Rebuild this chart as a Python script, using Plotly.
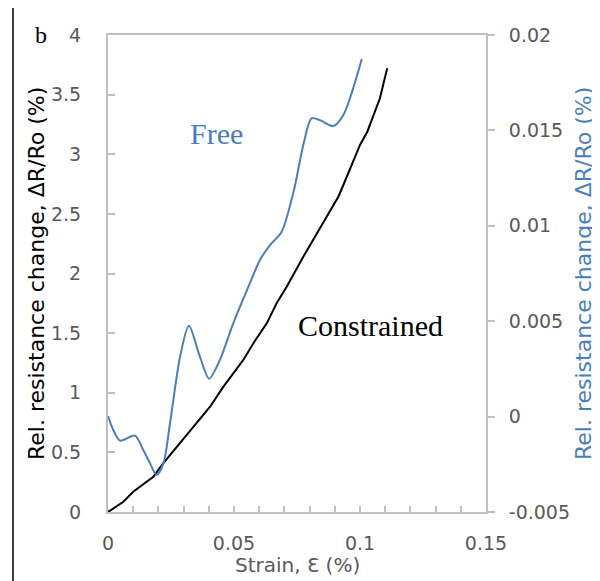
import plotly.graph_objects as go

# constrained sample, left axis (%)
constrained_strain = [0, 0.0061, 0.01, 0.018, 0.0219, 0.0286, 0.0339, 0.0405, 0.0458,
                      0.0537, 0.0577, 0.063, 0.0669, 0.0709, 0.0775, 0.0828, 0.0868,
                      0.0914, 0.0934, 0.0967, 0.1, 0.1029, 0.1066, 0.1079, 0.1108]
constrained_dr = [0, 0.086, 0.17, 0.296, 0.408, 0.576, 0.715, 0.883, 1.051,
                  1.275, 1.415, 1.582, 1.75, 1.889, 2.141, 2.337, 2.476,
                  2.644, 2.742, 2.91, 3.078, 3.189, 3.385, 3.469, 3.721]

# free sample, right axis (%)
free_strain = [0, 0.0021, 0.0048, 0.0107, 0.014, 0.0167, 0.0193, 0.022, 0.0246,
               0.0286, 0.0321, 0.0365, 0.0401, 0.0444, 0.0497, 0.0563, 0.0603,
               0.0643, 0.0689, 0.0738, 0.0775, 0.0808, 0.0841, 0.0894, 0.0934, 0.1007]
free_dr = [0.00003, -0.0007, -0.00126, -0.0010, -0.00175, -0.00245, -0.00306, -0.00245, -0.00035,
           0.00314, 0.00476, 0.00313, 0.00199, 0.00297, 0.00489, 0.00699, 0.00821,
           0.00899, 0.00969, 0.01188, 0.01424, 0.01563, 0.01554, 0.01523, 0.01581, 0.01874]

# tick labels
x_ticks = [0, 0.05, 0.1, 0.15]
x_labels = ["0", "0.05", "0.1", "0.15"]
y_ticks = [0, 0.5, 1, 1.5, 2, 2.5, 3, 3.5, 4]
y_labels = ["0", "0.5", "1", "1.5", "2", "2.5", "3", "3.5", "4"]
y2_ticks = [-0.005, 0, 0.005, 0.01, 0.015, 0.02]
y2_labels = ["-0.005", "0", "0.005", "0.01", "0.015", "0.02"]

BLUE = "#4a7ebb"
GREY_TXT = "#595959"
GREY_LINE = "#bfbfbf"
FONT = "DejaVu Sans"
Y_TITLE = "Rel. resistance change, ΔR/Ro (%)"

fig = go.Figure()
fig.add_trace(go.Scatter(x=constrained_strain, y=constrained_dr, mode="lines",
                         line=dict(color="black", width=2), name="Constrained"))
fig.add_trace(go.Scatter(x=free_strain, y=free_dr, mode="lines", yaxis="y2",
                         line=dict(color=BLUE, width=2, shape="spline", smoothing=0.8),
                         name="Free"))

# page body adds an 8px offset, so margins are shifted to compensate
fig.update_layout(
    width=600, height=581,
    margin=dict(l=100, r=122, t=27, b=77),
    paper_bgcolor="white", plot_bgcolor="white",
    showlegend=False,
    font=dict(family=FONT, color=GREY_TXT, size=19),
    xaxis=dict(range=[0, 0.15], tickvals=x_ticks, ticktext=x_labels, automargin=False,
               showline=True, linecolor=GREY_LINE, linewidth=2, mirror=True,
               ticks="inside", ticklen=6, tickcolor=GREY_LINE, tickwidth=1.5,
               minor=dict(dtick=0.01, ticks="inside", ticklen=6, tickcolor=GREY_LINE, tickwidth=1.5),
               showgrid=False, zeroline=False, ticklabelstandoff=13),
    yaxis=dict(range=[0, 4], tickvals=y_ticks, ticktext=y_labels, automargin=False,
               showline=True, linecolor=GREY_LINE, linewidth=2,
               ticks="inside", ticklen=7, tickcolor=GREY_LINE, tickwidth=1.5,
               showgrid=False, zeroline=False, ticklabelstandoff=21),
    yaxis2=dict(range=[-0.005, 0.02], tickvals=y2_ticks, ticktext=y2_labels, automargin=False,
                overlaying="y", side="right",
                showline=True, linecolor=GREY_LINE, linewidth=2,
                ticks="outside", ticklen=7, tickcolor=GREY_LINE, tickwidth=1.5,
                showgrid=False, zeroline=False, ticklabelstandoff=10),
)

# axis titles placed as annotations
fig.add_annotation(xref="paper", yref="paper", x=0.5, y=-0.111, text="Strain, Ɛ (%)",
                   xanchor="center", yanchor="middle",
                   showarrow=False, font=dict(size=20, color=GREY_TXT))
fig.add_annotation(xref="paper", yref="paper", x=-0.1905, y=0.501, text=Y_TITLE, textangle=-90,
                   xanchor="center", yanchor="middle",
                   showarrow=False, font=dict(size=22, color="black"))
fig.add_annotation(xref="paper", yref="paper", x=1.2566, y=0.501, text=Y_TITLE, textangle=-90,
                   xanchor="center", yanchor="middle",
                   showarrow=False, font=dict(size=22, color=BLUE))

fig.add_annotation(x=0.0429, y=3.17, text="Free", showarrow=False,
                   font=dict(family="Liberation Serif", size=30, color=BLUE))
fig.add_annotation(x=0.104, y=1.56, text="Constrained", showarrow=False,
                   font=dict(family="Liberation Serif", size=30, color="black"))
fig.add_annotation(xref="paper", yref="paper", x=-0.1772, y=1.0, text="b", showarrow=False,
                   xanchor="center", yanchor="middle",
                   font=dict(family="Liberation Serif", size=24, color="black"))

# outer panel frame (only the left and top edges fall inside the image)
fig.add_shape(type="rect", xref="paper", yref="paper", x0=-0.2513, x1=1.35, y0=-0.25, y1=1.0608,
              line=dict(color="black", width=1.5), layer="below")

fig.write_html("out.html")
